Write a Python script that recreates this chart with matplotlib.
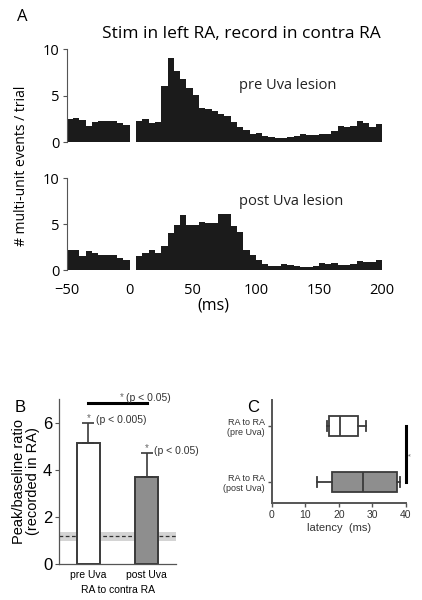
import numpy as np
import matplotlib
matplotlib.use("Agg")
import matplotlib.pyplot as plt

# ---- panel A: peri-stimulus histograms (5 ms bins, -50..200 ms) ----
bin_start = list(range(-50, 200, 5))
pre_lesion = [2.45, 2.6, 2.35, 1.77, 2.1, 2.3, 2.3, 2.3, 2.0, 1.85,
              0.0, 2.25, 2.5, 2.05, 2.2, 6.0, 9.0, 7.65, 6.8, 5.8,
              5.1, 3.65, 3.6, 3.35, 3.0, 2.75, 2.2, 1.6, 1.25, 0.85,
              0.95, 0.65, 0.5, 0.45, 0.45, 0.5, 0.6, 0.85, 0.75, 0.75,
              0.85, 0.9, 1.2, 1.7, 1.65, 1.75, 2.25, 2.0, 1.65, 1.95]
post_lesion = [2.17, 2.17, 1.5, 2.1, 1.9, 1.6, 1.67, 1.67, 1.3, 1.1,
               0.0, 1.55, 1.9, 2.2, 1.9, 2.65, 4.05, 4.9, 6.0, 4.85,
               4.9, 5.25, 5.1, 5.1, 6.1, 6.1, 4.8, 4.1, 2.2, 1.6,
               1.1, 0.65, 0.45, 0.45, 0.6, 0.5, 0.45, 0.3, 0.3, 0.45,
               0.8, 0.65, 0.75, 0.5, 0.5, 0.6, 0.95, 0.9, 0.9, 1.05]
hist_ticks = [-50, 0, 50, 100, 150, 200]

# ---- panel B: peak/baseline ratio ----
conditions = ["pre Uva", "post Uva"]
ratio_mean = [5.15, 3.7]
ratio_err = [0.85, 1.0]
baseline_mean = 1.2
baseline_lo, baseline_hi = 0.97, 1.37
p_labels = ["(p < 0.005)", "(p < 0.05)"]

# ---- panel C: latency box plots ----
lat_labels = ["RA to RA\n(post Uva)", "RA to RA\n(pre Uva)"]
lat_whislo = [13.6, 16.6]
lat_q1 = [17.9, 17.0]
lat_med = [27.3, 20.3]
lat_q3 = [37.2, 25.8]
lat_whishi = [38.2, 28.0]

fontA = ["Open Sans", "DejaVu Sans"]
fontB = ["Liberation Sans", "DejaVu Sans"]
dark = "#3a3a3a"

fig = plt.figure(figsize=(4.22, 6.0), dpi=100)

def hist_panel(rect, vals, label, label_y, show_x):
    ax = fig.add_axes(rect)
    ax.bar(bin_start, vals, width=5, align="edge", color="#1b1b1b", linewidth=0)
    ax.set_xlim(-50, 200)
    ax.set_ylim(0, 10)
    ax.set_yticks([0, 5, 10])
    for s in ["top", "right", "bottom"]:
        ax.spines[s].set_visible(False)
    ax.spines["left"].set_color("#555555")
    ax.spines["left"].set_linewidth(0.8)
    ax.tick_params(axis="y", length=3, width=0.8, color="#555555", labelsize=10.5, pad=2)
    for t in ax.get_yticklabels():
        t.set_fontfamily(fontA)
    if show_x:
        ax.set_xticks(hist_ticks)
        ax.tick_params(axis="x", length=0, labelsize=10.5, pad=9)
        for t in ax.get_xticklabels():
            t.set_fontfamily(fontA)
    else:
        ax.set_xticks([])
    ax.text(87, label_y, label, fontsize=10.5, family=fontA, va="center", color="#222222")
    return ax

hist_panel([0.158, 0.7633, 0.747, 0.155], pre_lesion, "pre Uva lesion", 6.1, False)
hist_panel([0.158, 0.55, 0.747, 0.1533], post_lesion, "post Uva lesion", 7.4, True)

fig.text(0.052, 0.972, "A", fontsize=12, family=fontA, ha="center", va="center")
fig.text(0.573, 0.943, "Stim in left RA, record in contra RA", fontsize=12.5,
         family=fontA, ha="center", va="center")
fig.text(0.052, 0.723, "# multi-unit events / trial", fontsize=10, family=fontA,
         rotation=90, ha="center", va="center")
fig.text(0.505, 0.49, "(ms)", fontsize=11.5, family=fontA, ha="center", va="center")

# ---- panel B ----
axB = fig.add_axes([0.1405, 0.06, 0.2765, 0.275])
xpos = [1, 2]
axB.axhspan(baseline_lo, baseline_hi, color="#d4d4d4", linewidth=0, zorder=0)
axB.axhline(baseline_mean, color="#333333", linestyle=(0, (3, 2)), linewidth=0.9, zorder=1)
axB.bar(xpos, ratio_mean, width=0.4, color=["white", "#8e8e8e"],
        edgecolor=dark, linewidth=1.4, zorder=2)
axB.errorbar(xpos, ratio_mean, yerr=[[0, 0], ratio_err], fmt="none",
             ecolor=dark, elinewidth=1.2, capsize=4, capthick=1.2, zorder=3)
axB.set_xlim(0.5, 2.5)
axB.set_ylim(0, 7)
axB.set_yticks([0, 2, 4, 6])
axB.set_xticks(xpos)
axB.set_xticklabels(conditions)
for s in ["top", "right"]:
    axB.spines[s].set_visible(False)
for s in ["left", "bottom"]:
    axB.spines[s].set_color("#555555")
    axB.spines[s].set_linewidth(0.9)
axB.tick_params(axis="y", length=3, color="#555555", labelsize=12, pad=2)
axB.tick_params(axis="x", length=0, labelsize=7.5, pad=4)
for t in axB.get_yticklabels() + axB.get_xticklabels():
    t.set_fontfamily(fontB)
axB.set_xlabel("RA to contra RA", fontsize=7.5, family=fontB, labelpad=4)
axB.set_ylabel("Peak/baseline ratio\n(recorded in RA)", fontsize=10.5, family=fontB,
               linespacing=1.05, labelpad=2)
for x, m, e, p in zip(xpos, ratio_mean, ratio_err, p_labels):
    axB.text(x, m + e + 0.2, "*", fontsize=7, color="#666666", family=fontB, ha="center", va="center")
    axB.text(x + 0.13, m + e + 0.1, p, fontsize=7.5, family=fontB, color="#333333", va="center")
axB.plot(xpos, [6.82, 6.82], color="black", linewidth=2.2, clip_on=False)
axB.text(1.57, 7.1, "*", fontsize=7, color="#666666", family=fontB, ha="center", va="center")
axB.text(1.65, 7.05, "(p < 0.05)", fontsize=7.5, family=fontB, color="#333333", va="center")
fig.text(0.048, 0.32, "B", fontsize=12, family=fontB, ha="center", va="center")

# ---- panel C ----
axC = fig.add_axes([0.644, 0.1612, 0.318, 0.172])
stats = []
for i in range(len(lat_labels)):
    stats.append(dict(whislo=lat_whislo[i], q1=lat_q1[i], med=lat_med[i],
                      q3=lat_q3[i], whishi=lat_whishi[i], fliers=[]))
bp = axC.bxp(stats, positions=[1, 2], vert=False, widths=0.35, patch_artist=True,
             showfliers=False,
             boxprops=dict(edgecolor=dark, linewidth=1.3),
             medianprops=dict(color=dark, linewidth=1.3),
             whiskerprops=dict(color=dark, linewidth=1.3),
             capprops=dict(color=dark, linewidth=1.3), capwidths=0.17)
bp["boxes"][0].set_facecolor("#8e8e8e")
bp["boxes"][1].set_facecolor("white")
axC.set_xlim(0, 40)
axC.set_ylim(0.62, 2.46)
axC.set_xticks([0, 10, 20, 30, 40])
axC.set_yticks([1, 2])
axC.set_yticklabels(lat_labels)
for s in ["top", "right"]:
    axC.spines[s].set_visible(False)
for s in ["left", "bottom"]:
    axC.spines[s].set_color("#555555")
    axC.spines[s].set_linewidth(1.4)
axC.tick_params(axis="both", length=3, color="#555555", width=1.0, labelsize=7.5, pad=2)
axC.tick_params(axis="y", labelsize=6.5)
for t in axC.get_yticklabels() + axC.get_xticklabels():
    t.set_fontfamily(fontB)
    t.set_color("#333333")
axC.set_xlabel("latency  (ms)", fontsize=8, family=fontB, labelpad=2, color="#333333")
axC.plot([40, 40], [1, 2], color="black", linewidth=2.2, clip_on=False)
axC.text(41.6, 1.5, "*", fontsize=6, color="#666666", family=fontB, rotation=90,
         ha="center", va="center", clip_on=False)
fig.text(0.6, 0.32, "C", fontsize=12, family=fontB, ha="center", va="center")

fig.savefig("out.png", dpi=100)
